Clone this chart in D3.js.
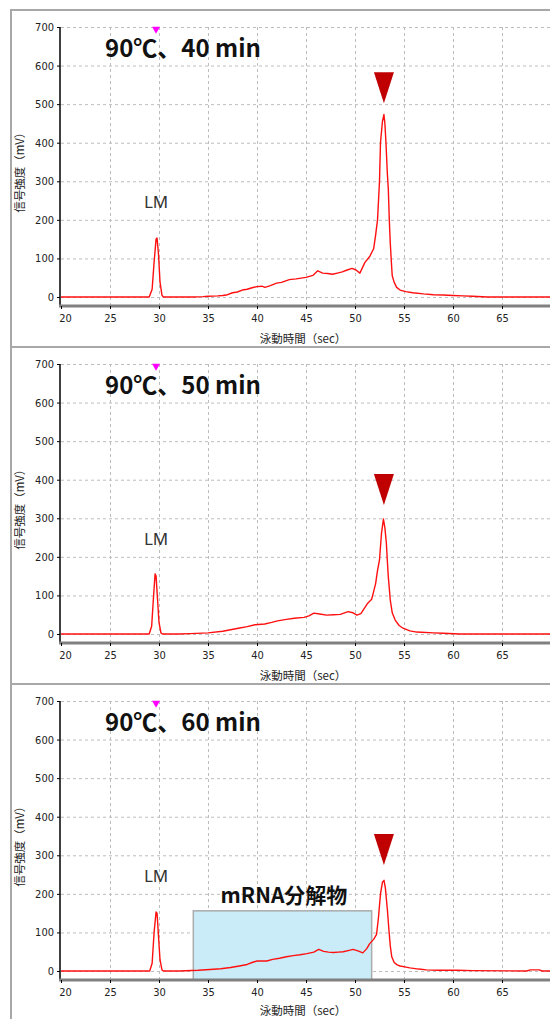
<!DOCTYPE html>
<html>
<head>
<meta charset="utf-8">
<script src="https://cdn.jsdelivr.net/npm/d3@7"></script>
<style>
  body { margin: 0; background: #fff; }
  svg { display: block; }
</style>
</head>
<body>
<div id="chart"></div>
<script>
// パネルのタイトル
const titles = ["90℃、40 min", "90℃、50 min", "90℃、60 min"];

// 目盛り
const xTicks = [20, 25, 30, 35, 40, 45, 50, 55, 60, 65];
const yTicks = [0, 100, 200, 300, 400, 500, 600, 700];

// 泳動時間 (sec) と 信号強度 (mV)
const time40 = [20, 29.0, 29.3, 29.5, 29.7, 29.8, 29.95, 30.1, 30.3, 30.45, 33.5, 34.5, 35, 36, 36.5, 37, 37.5, 38, 38.5, 39, 39.5, 40, 40.5, 40.8, 41.3, 42, 42.5, 43.3, 44, 45, 45.7, 46.2, 46.7, 47.2, 47.7, 48.2, 48.7, 49.2, 49.7, 50.1, 50.5, 51, 51.5, 51.9, 52.1, 52.3, 52.5, 52.6, 52.8, 52.95, 53.05, 53.16, 53.3, 53.4, 53.5, 53.6, 53.7, 53.8, 54, 54.25, 54.6, 55.2, 55.9, 57, 58, 59, 60, 61, 62, 63.5, 70];
const signal40 = [0, 0, 20, 90, 150, 153, 110, 40, 5, 0, 0, 1, 2, 3, 4, 6, 11, 13, 18, 20, 24, 27, 28, 25, 29, 36, 38, 45, 47, 51, 56, 68, 62, 61, 59, 62, 65, 70, 74, 70, 62, 89, 105, 125, 160, 200, 300, 400, 455, 473, 450, 400, 320, 280, 200, 140, 95, 55, 38, 25, 18, 14, 11, 8, 6, 5, 4, 3, 2, 0, 0];

const time50 = [20, 29.0, 29.25, 29.45, 29.6, 29.7, 29.85, 30.0, 30.2, 30.35, 32, 33.2, 35, 36.5, 37.3, 38.1, 39, 39.8, 40.8, 41.5, 42.1, 43, 43.8, 44.8, 45.3, 45.8, 46.4, 47.1, 47.8, 48.5, 49.3, 49.8, 50.2, 50.6, 51.3, 51.7, 51.9, 52.1, 52.3, 52.5, 52.7, 52.9, 53.05, 53.2, 53.3, 53.4, 53.6, 53.8, 54.1, 54.5, 54.9, 55.6, 56.3, 58, 59, 60.7, 70];
const signal50 = [0, 0, 20, 100, 156, 150, 90, 30, 3, 0, 0, 1, 3, 7, 11, 15, 19, 24, 26, 30, 34, 38, 41, 43, 47, 54, 52, 49, 50, 51, 58, 55, 49, 53, 80, 90, 110, 130, 165, 192, 260, 298, 275, 236, 190, 148, 88, 55, 36, 22, 15, 8, 5, 3, 2, 0, 0];

const time60 = [20, 29.05, 29.3, 29.5, 29.7, 29.8, 29.95, 30.1, 30.3, 30.45, 32.1, 34, 35.2, 36.3, 37.3, 38.2, 39, 39.5, 40, 41, 41.6, 42.3, 43, 43.7, 44.4, 45.1, 45.8, 46.3, 46.8, 47.3, 47.8, 48.3, 48.8, 49.3, 49.8, 50.3, 50.8, 51.2, 51.5, 51.9, 52.2, 52.4, 52.6, 52.8, 52.96, 53.1, 53.3, 53.45, 53.6, 53.75, 54.0, 54.3, 54.6, 55.2, 55.6, 56.5, 57.3, 58.5, 60.4, 62, 67.5, 67.9, 68.8, 69.1, 70];
const signal60 = [0, 0, 20, 100, 153, 150, 90, 30, 3, 0, 0, 2, 4, 6, 9, 13, 17, 22, 26, 26, 30, 33, 37, 40, 42, 45, 49, 56, 51, 49, 48, 49, 50, 53, 56, 52, 47, 58, 71, 82, 95, 140, 200, 230, 235, 215, 160, 110, 65, 37, 22, 16, 13, 10, 8, 5, 3, 2, 2, 1, 0, 3, 3, 0, 0];

const times = [time40, time50, time60];
const signals = [signal40, signal50, signal60];

// 目印
const lmTime = 29.8;       // LM のピーク
const lmLabelValue = 230;
const mainPeakTime = 52.95;
const arrowTop = [583, 415, 355];   // 赤い三角の上端 (mV)
const degradedRange = [33.5, 51.7];  // mRNA分解物の範囲 (sec)
const degradedTop = 156;

const W = 550, H = 1019;
const panelStep = 337;

const svg = d3.select("#chart").append("svg")
    .attr("width", W)
    .attr("height", H);

const x = d3.scaleLinear().domain([20, 70]).range([61, 551]);
const y = d3.scaleLinear().domain([0, 700]).range([270, 0]);
const plotBottom = 279;  // x軸の位置 (0 の少し下)

svg.append("defs").append("clipPath")
    .attr("id", "plotclip")
    .append("rect")
    .attr("x", 61).attr("y", -5)
    .attr("width", 490).attr("height", plotBottom + 5);

const tickFont = "'DejaVu Sans Condensed', 'Liberation Sans Narrow', sans-serif";

titles.forEach((title, i) => {
    const top = 10 + i * panelStep;

    // パネルの枠
    svg.append("line")
        .attr("x1", 11).attr("x2", W)
        .attr("y1", top).attr("y2", top)
        .attr("stroke", "#a8a8a8").attr("stroke-width", 2);

    const g = svg.append("g")
        .attr("transform", `translate(0,${top + 17})`);

    // グリッド
    g.append("g")
        .selectAll("line")
        .data(yTicks)
        .join("line")
        .attr("x1", 61).attr("x2", W)
        .attr("y1", d => y(d) + 0.5).attr("y2", d => y(d) + 0.5)
        .attr("stroke", "#bdbdbd")
        .attr("stroke-dasharray", "3,3");

    g.append("g")
        .selectAll("line")
        .data(xTicks.slice(1))
        .join("line")
        .attr("x1", d => x(d) + 0.5).attr("x2", d => x(d) + 0.5)
        .attr("y1", y(700)).attr("y2", plotBottom)
        .attr("stroke", "#bdbdbd")
        .attr("stroke-dasharray", "3,3");

    // mRNA分解物の枠 (3枚目のみ)
    if (i === 2) {
        g.append("rect")
            .attr("x", x(degradedRange[0]))
            .attr("y", y(degradedTop))
            .attr("width", x(degradedRange[1]) - x(degradedRange[0]))
            .attr("height", plotBottom - y(degradedTop))
            .attr("fill", "#c9ecf8")
            .attr("stroke", "#ababab")
            .attr("stroke-width", 1.5);

        g.append("text")
            .attr("x", 284)
            .attr("y", y(degradedTop) - 8)
            .attr("text-anchor", "middle")
            .style("font-family", "'Noto Sans CJK JP', sans-serif")
            .style("font-weight", "bold")
            .style("font-size", "21px")
            .style("fill", "#111")
            .text("mRNA分解物");
    }

    // 波形
    const pts = times[i].map((t, k) => [t, signals[i][k]]);
    g.append("path")
        .datum(pts)
        .attr("clip-path", "url(#plotclip)")
        .attr("fill", "none")
        .attr("stroke", "#ff1010")
        .attr("stroke-width", 1.4)
        .attr("stroke-linejoin", "round")
        .attr("d", d3.line().x(d => x(d[0])).y(d => y(d[1])));

    // y軸
    const yAxis = g.append("g")
        .attr("transform", "translate(60,0)")
        .call(d3.axisLeft(y).tickValues(yTicks).tickSize(3).tickSizeOuter(0));
    yAxis.select(".domain")
        .attr("d", `M0,${y(700)}V${plotBottom}`)
        .attr("stroke", "#000").attr("stroke-width", 1.5);
    yAxis.selectAll("text")
        .style("font-family", tickFont)
        .style("font-size", "11px")
        .style("fill", "#222");

    // x軸
    const xAxis = g.append("g")
        .attr("transform", `translate(0,${plotBottom})`)
        .call(d3.axisBottom(x).tickValues(xTicks).tickSize(3).tickSizeOuter(0));
    xAxis.select(".domain")
        .attr("d", `M59,0H${W}`)
        .attr("stroke", "#808080").attr("stroke-width", 3);
    xAxis.selectAll("text")
        .attr("dx", d => d === 20 ? 4 : 0)
        .attr("dy", "0.9em")
        .style("font-family", tickFont)
        .style("font-size", "11px")
        .style("fill", "#222");

    // 軸ラベル
    g.append("text")
        .attr("x", 303)
        .attr("y", plotBottom + (i === 2 ? 35 : 37))
        .attr("text-anchor", "middle")
        .style("font-family", "'Noto Sans CJK JP', sans-serif")
        .style("font-size", "11.5px")
        .style("fill", "#222")
        .text("泳動時間（sec）");

    g.append("text")
        .attr("transform", `translate(24,${y(330)}) rotate(-90)`)
        .attr("text-anchor", "middle")
        .style("font-family", "'Noto Sans CJK JP', sans-serif")
        .style("font-size", "11.5px")
        .style("fill", "#222")
        .text("信号強度（mV）");

    // マゼンタのマーカー
    g.append("path")
        .attr("d", d3.symbol(d3.symbolTriangle, 28)())
        .attr("transform", `translate(${x(lmTime) - 1},${y(700) + 2}) rotate(180)`)
        .attr("fill", "#ff00ff");

    // タイトル
    g.append("text")
        .attr("x", 105)
        .attr("y", y(700) + 30)
        .style("font-family", "'Noto Sans CJK JP', sans-serif")
        .style("font-weight", "bold")
        .style("font-size", "24px")
        .style("fill", "#111")
        .text(title);

    // LM
    g.append("text")
        .attr("x", x(lmTime) - 1)
        .attr("y", y(lmLabelValue))
        .attr("text-anchor", "middle")
        .style("font-family", "'Noto Sans', sans-serif")
        .style("font-size", "17px")
        .style("fill", "#333")
        .text("LM");

    // 赤い三角
    const ax = x(mainPeakTime);
    const ay = y(arrowTop[i]);
    g.append("path")
        .attr("d", `M${ax - 10},${ay}L${ax + 10},${ay}L${ax},${ay + 31}Z`)
        .attr("fill", "#c00000");
});

// 左端の枠線
svg.append("line")
    .attr("x1", 11).attr("x2", 11)
    .attr("y1", 9).attr("y2", H)
    .attr("stroke", "#a8a8a8").attr("stroke-width", 2);
</script>
</body>
</html>
